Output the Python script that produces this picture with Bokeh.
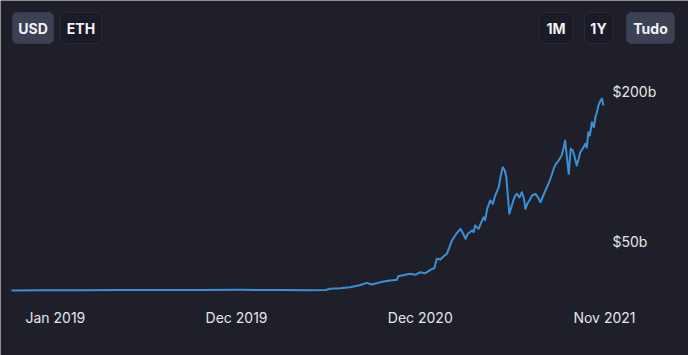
import numpy as np
import pandas as pd
from bokeh.plotting import figure
from bokeh.models import Range1d, BoxAnnotation
from bokeh.core.properties import value
from bokeh.embed import file_html
from bokeh.resources import INLINE

# ---- data (USD, billions) ----
dates = [
    "2018-08-20", "2018-10-16", "2019-01-04", "2019-03-24", "2019-06-11", "2019-08-30",
    "2019-11-18", "2020-02-05", "2020-04-05", "2020-05-05",
    "2020-05-14", "2020-06-03", "2020-06-23", "2020-07-13", "2020-07-26", "2020-08-05",
    "2020-08-16", "2020-08-28", "2020-09-10", "2020-09-24", "2020-09-26", "2020-10-08",
    "2020-10-20", "2020-10-30", "2020-11-09", "2020-11-19", "2020-11-29", "2020-12-07",
    "2020-12-12", "2020-12-19", "2020-12-25", "2021-01-01", "2021-01-11", "2021-01-20",
    "2021-01-28", "2021-02-03", "2021-02-07", "2021-02-12", "2021-02-20", "2021-02-23",
    "2021-02-26", "2021-03-05", "2021-03-10", "2021-03-15", "2021-03-18", "2021-03-22",
    "2021-03-28", "2021-04-02", "2021-04-07", "2021-04-14", "2021-04-18", "2021-04-22",
    "2021-04-26", "2021-04-29", "2021-05-02", "2021-05-05", "2021-05-10", "2021-05-13",
    "2021-05-17", "2021-05-20", "2021-05-25", "2021-05-30", "2021-06-03", "2021-06-06",
    "2021-06-10", "2021-06-14", "2021-06-19", "2021-06-26", "2021-07-01", "2021-07-06",
    "2021-07-14", "2021-07-23", "2021-07-28", "2021-08-01", "2021-08-06", "2021-08-11",
    "2021-08-17", "2021-08-21", "2021-08-24", "2021-08-27", "2021-08-31", "2021-09-04",
    "2021-09-08", "2021-09-11", "2021-09-16", "2021-09-20", "2021-09-23", "2021-09-28",
    "2021-10-03", "2021-10-06", "2021-10-09", "2021-10-12", "2021-10-16", "2021-10-20",
    "2021-10-23", "2021-10-26", "2021-10-29", "2021-11-02", "2021-11-05", "2021-11-08",
]
tvl_usd_b = [
    0.4, 0.5, 0.6, 0.7, 0.8, 0.9, 1.0, 0.8, 0.6, 0.8,
    2.0, 2.5, 3.6, 5.8, 8.0, 6.3,
    7.8, 9.3, 10.4, 11.1, 14.7, 15.9,
    17.1, 16.1, 18.7, 17.7, 21.1, 22.9,
    32.2, 31.5, 34.5, 37.2, 50.6, 57.6,
    62.3, 56.6, 52.3, 57.6, 60.6, 58.9,
    65.6, 62.3, 68.6, 74.0, 71.0, 82.4,
    90.8, 87.4, 95.8, 104.1, 115.9, 124.2,
    120.9, 114.2, 95.8, 77.4, 85.7, 90.8,
    95.8, 97.5, 93.8, 99.1, 92.8, 82.4,
    87.7, 90.8, 95.8, 97.5, 93.8, 89.0,
    98.8, 109.1, 115.9, 122.6, 127.9, 130.9,
    136.0, 144.0, 151.0, 136.0, 117.6, 142.7,
    141.0, 136.0, 126.0, 133.0, 139.3, 143.0,
    147.7, 144.0, 159.4, 156.0, 169.4, 164.5,
    174.5, 179.2, 186.2, 191.2, 193.0, 186.2,
]
x_tick_dates = ["2018-11-15", "2019-11-10", "2020-11-09", "2021-11-10"]
x_tick_labels = ["Jan 2019", "Dec 2019", "Dec 2020", "Nov 2021"]
y_ticks = [50, 200]
y_tick_labels = ["$50b", "$200b"]
currency_buttons = ["USD", "ETH"]
period_buttons = ["1M", "1Y", "Tudo"]
active_buttons = ["USD", "Tudo"]

FONT = "Inter"
TXT = "#e6e6e9"
LINE = "#3b90d5"
W, H = 688, 355

# The frame covers the whole canvas; decorations use pixel ranges "px"/"py".
p = figure(width=W, height=H, x_axis_type="datetime",
           x_range=Range1d(pd.Timestamp("2018-07-29"), pd.Timestamp("2022-04-26")),
           y_range=Range1d(-65.0, 291.75),
           output_backend="svg", toolbar_location=None, min_border=0,
           x_axis_location=None, y_axis_location=None)
p.extra_x_ranges = {"px": Range1d(0, W)}
p.extra_y_ranges = {"py": Range1d(H, 0)}
p.outline_line_color = None
p.grid.visible = False
p.background_fill_color = "#1e1f29"
p.border_fill_color = "#1e1f29"

# background: soft vertical gradient (bluish top -> grey bottom)
top_c = np.array([28, 29, 45]); bot_c = np.array([32, 33, 37])
n = 64
t = np.linspace(0, 1, n)[:, None]
cols = (bot_c * (1 - t) + top_c * t).astype(np.uint32)  # row 0 = bottom
img = np.empty((n, 1), dtype=np.uint32)
view = img.view(dtype=np.uint8).reshape((n, 1, 4))
view[:, 0, 0] = cols[:, 0]; view[:, 0, 1] = cols[:, 1]; view[:, 0, 2] = cols[:, 2]; view[:, 0, 3] = 255
p.image_rgba(image=[img], x=-2, y=H + 2, dw=W + 4, dh=H + 4, x_range_name="px", y_range_name="py",
             level="image")

# buttons
btn_boxes = {"USD": (12, 53), "ETH": (60, 101), "1M": (539, 572), "1Y": (584, 612), "Tudo": (626, 674)}
for name in currency_buttons + period_buttons:
    l, r = btn_boxes[name]
    on = name in active_buttons
    p.add_layout(BoxAnnotation(left=l, right=r, top=12, bottom=43,
                               x_range_name="px", y_range_name="py",
                               fill_color="#3d4154" if on else "#1a1b26", fill_alpha=1.0,
                               line_color="#52566a" if on else "#44475a", line_width=1,
                               border_radius=5, level="underlay"))
p.text(x=[(btn_boxes[b][0] + btn_boxes[b][1]) / 2 for b in currency_buttons + period_buttons],
       y=[28] * 5, text=currency_buttons + period_buttons,
       x_range_name="px", y_range_name="py",
       text_align="center", text_baseline="middle", text_color="#f2f2f5",
       text_font=value(FONT), text_font_style="bold", text_font_size="14px")

# series
p.line(x=pd.to_datetime(dates), y=tvl_usd_b, line_color=LINE, line_width=2, line_join="round")

# tick labels (x: dates, y: values)
p.text(x=pd.to_datetime(x_tick_dates), y=[317] * len(x_tick_dates), text=x_tick_labels,
       y_range_name="py", text_align="center", text_baseline="middle", text_color=TXT,
       text_font=value(FONT), text_font_size="14px")
p.text(x=[612] * len(y_ticks), y=y_ticks, text=y_tick_labels, x_range_name="px",
       text_align="left", text_baseline="middle", text_color=TXT,
       text_font=value(FONT), text_font_size="14px")

open("out.html", "w").write(file_html(p, INLINE))
